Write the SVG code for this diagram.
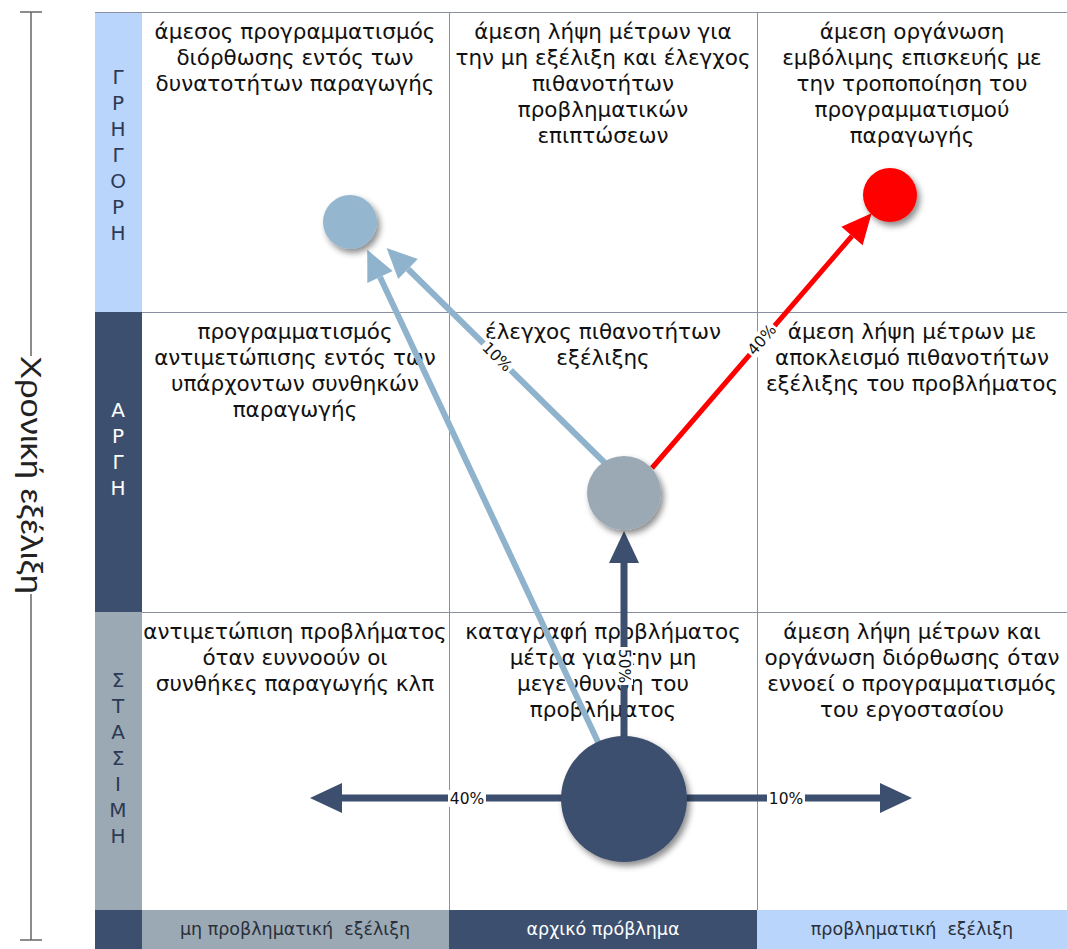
<svg xmlns="http://www.w3.org/2000/svg" width="1067" height="949" viewBox="0 0 1067 949">
<style>
.cell{font-family:"DejaVu Sans",Verdana,sans-serif;font-size:21.5px;fill:#111;text-anchor:middle}
.rowlab{font-family:"DejaVu Sans",sans-serif;font-size:20px;text-anchor:middle}
.collab{font-family:"DejaVu Sans",sans-serif;font-size:17.5px;text-anchor:middle}
.pct{font-family:"DejaVu Sans",sans-serif;font-size:15.5px;fill:#111;text-anchor:middle}
.grid{stroke:#8a90a0;stroke-width:1;fill:none}
.navy{stroke:#3d4f6e;stroke-width:7;fill:none}
.lblue{stroke:#8fb3cc;stroke-width:6;fill:none}
.red{stroke:#ff0000;stroke-width:5;fill:none}
.lbg{fill:#ffffff}
</style>
<defs>
<filter id="sh" x="-30%" y="-30%" width="170%" height="170%">
<feDropShadow dx="3" dy="4" stdDeviation="3" flood-color="#000" flood-opacity="0.45"/>
</filter>
<marker id="mNavy" markerUnits="userSpaceOnUse" markerWidth="34" markerHeight="32" viewBox="0 -16 34 32" refX="0" refY="0" orient="auto" overflow="visible">
<path d="M0,-15 L32,0 L0,15 z" fill="#3d4f6e"/>
</marker>
<marker id="mBlue" markerUnits="userSpaceOnUse" markerWidth="34" markerHeight="32" viewBox="0 -16 34 32" refX="0" refY="0" orient="auto" overflow="visible">
<path d="M0,-14 L30,0 L0,14 z" fill="#8fb3cc"/>
</marker>
<marker id="mRed" markerUnits="userSpaceOnUse" markerWidth="34" markerHeight="32" viewBox="0 -16 34 32" refX="0" refY="0" orient="auto" overflow="visible">
<path d="M0,-14 L30,0 L0,14 z" fill="#ff0000"/>
</marker>
</defs>
<rect x="0" y="0" width="1067" height="949" fill="#ffffff"/>

<g id="axis">
<line x1="20" y1="12" x2="42" y2="12" stroke="#666" stroke-width="1.5"/>
<line x1="20" y1="940" x2="42" y2="940" stroke="#666" stroke-width="1.5"/>
<line x1="31" y1="12" x2="31" y2="356" stroke="#666" stroke-width="1.5"/>
<line x1="31" y1="594" x2="31" y2="940" stroke="#666" stroke-width="1.5"/>
<text transform="translate(21,475) rotate(90)" font-family="Liberation Sans, Arial, sans-serif" font-size="30" fill="#222" text-anchor="middle" textLength="238" lengthAdjust="spacingAndGlyphs">Χρονική εξέλιξη</text>
</g>

<g id="bands">
<rect x="95" y="12" width="47" height="300" fill="#b9d5fb"/>
<rect x="95" y="312" width="47" height="300" fill="#3d4f6e"/>
<rect x="95" y="612" width="47" height="298" fill="#9ba9b4"/>
<rect x="95" y="910" width="47" height="39" fill="#3d4f6e"/>
<rect x="142" y="910" width="307" height="39" fill="#9ba9b4"/>
<rect x="449" y="910" width="308" height="39" fill="#3d4f6e"/>
<rect x="757" y="910" width="310" height="39" fill="#b9d5fb"/>
</g>

<g id="grid">
<line class="grid" x1="95" y1="12.5" x2="1067" y2="12.5"/>
<line class="grid" x1="142" y1="312.5" x2="1067" y2="312.5"/>
<line class="grid" x1="142" y1="612.5" x2="1067" y2="612.5"/>
<line class="grid" x1="449.5" y1="12" x2="449.5" y2="910"/>
<line class="grid" x1="757.5" y1="12" x2="757.5" y2="910"/>
</g>

<g id="row-labels">
<text class="rowlab" fill="#2c3a55">
<tspan x="118" y="84">Γ</tspan><tspan x="118" y="110">Ρ</tspan><tspan x="118" y="136">Η</tspan><tspan x="118" y="162">Γ</tspan><tspan x="118" y="188">Ο</tspan><tspan x="118" y="214">Ρ</tspan><tspan x="118" y="240">Η</tspan>
</text>
<text class="rowlab" fill="#ffffff">
<tspan x="118" y="417">Α</tspan><tspan x="118" y="443">Ρ</tspan><tspan x="118" y="469">Γ</tspan><tspan x="118" y="495">Η</tspan>
</text>
<text class="rowlab" fill="#2c3a55">
<tspan x="118" y="687">Σ</tspan><tspan x="118" y="713">Τ</tspan><tspan x="118" y="739">Α</tspan><tspan x="118" y="765">Σ</tspan><tspan x="118" y="791">Ι</tspan><tspan x="118" y="817">Μ</tspan><tspan x="118" y="843">Η</tspan>
</text>
</g>

<g id="col-labels">
<text class="collab" x="295" y="935" fill="#2a2f3a" xml:space="preserve">μη προβληματική  εξέλιξη</text>
<text class="collab" x="603" y="935" fill="#ffffff">αρχικό πρόβλημα</text>
<text class="collab" x="912" y="935" fill="#2a2f3a" xml:space="preserve">προβληματική  εξέλιξη</text>
</g>

<g id="cell-fast-none">
<text class="cell"><tspan x="295" y="39">άμεσος προγραμματισμός</tspan><tspan x="295" y="65">διόρθωσης εντός των</tspan><tspan x="295" y="91">δυνατοτήτων παραγωγής</tspan></text>
</g>
<g id="cell-fast-initial">
<text class="cell"><tspan x="603" y="39">άμεση λήψη μέτρων για</tspan><tspan x="603" y="65">την μη εξέλιξη και έλεγχος</tspan><tspan x="603" y="91">πιθανοτήτων</tspan><tspan x="603" y="117">προβληματικών</tspan><tspan x="603" y="143">επιπτώσεων</tspan></text>
</g>
<g id="cell-fast-problem">
<text class="cell"><tspan x="912" y="39">άμεση οργάνωση</tspan><tspan x="912" y="65">εμβόλιμης επισκευής με</tspan><tspan x="912" y="91">την τροποποίηση του</tspan><tspan x="912" y="117">προγραμματισμού</tspan><tspan x="912" y="143">παραγωγής</tspan></text>
</g>
<g id="cell-slow-none">
<text class="cell"><tspan x="295" y="339">προγραμματισμός</tspan><tspan x="295" y="365">αντιμετώπισης εντός των</tspan><tspan x="295" y="391">υπάρχοντων συνθηκών</tspan><tspan x="295" y="417">παραγωγής</tspan></text>
</g>
<g id="cell-slow-initial">
<text class="cell"><tspan x="603" y="339">έλεγχος πιθανοτήτων</tspan><tspan x="603" y="365">εξέλιξης</tspan></text>
</g>
<g id="cell-slow-problem">
<text class="cell"><tspan x="912" y="339">άμεση λήψη μέτρων με</tspan><tspan x="912" y="365">αποκλεισμό πιθανοτήτων</tspan><tspan x="912" y="391">εξέλιξης του προβλήματος</tspan></text>
</g>
<g id="cell-static-none">
<text class="cell"><tspan x="295" y="639">αντιμετώπιση προβλήματος</tspan><tspan x="295" y="665">όταν ευννοούν οι</tspan><tspan x="295" y="691">συνθήκες παραγωγής κλπ</tspan></text>
</g>
<g id="cell-static-initial">
<text class="cell"><tspan x="603" y="639">καταγραφή προβλήματος</tspan><tspan x="603" y="665">μέτρα για την μη</tspan><tspan x="603" y="691">μεγενθυνση του</tspan><tspan x="603" y="717">προβλήματος</tspan></text>
</g>
<g id="cell-static-problem">
<text class="cell"><tspan x="912" y="639">άμεση λήψη μέτρων και</tspan><tspan x="912" y="665">οργάνωση διόρθωσης όταν</tspan><tspan x="912" y="691">εννοεί ο προγραμματισμός</tspan><tspan x="912" y="717">του εργοστασίου</tspan></text>
</g>

<g id="connectors">
<line class="navy" x1="562" y1="798" x2="342" y2="798" marker-end="url(#mNavy)"/>
<line class="navy" x1="686" y1="798" x2="880" y2="798" marker-end="url(#mNavy)"/>
<line class="navy" x1="624" y1="737" x2="624" y2="563" marker-end="url(#mNavy)"/>
<line class="lblue" x1="598" y1="742" x2="380" y2="277" marker-end="url(#mBlue)"/>
<line class="lblue" x1="607" y1="465" x2="408" y2="269" marker-end="url(#mBlue)"/>
<line class="red" x1="652" y1="468" x2="852" y2="236" marker-end="url(#mRed)"/>
<g id="label-left">
<rect class="lbg" x="448" y="790" width="38" height="17"/>
<text class="pct" x="467" y="804">40%</text>
</g>
<g id="label-right">
<rect class="lbg" x="767" y="790" width="38" height="17"/>
<text class="pct" x="786" y="804">10%</text>
</g>
<g id="label-up" transform="translate(624,666) rotate(90)">
<rect class="lbg" x="-19" y="-9" width="38" height="17"/>
<text class="pct" x="0" y="5">50%</text>
</g>
<g id="label-blue" transform="translate(497,357) rotate(44.6)">
<rect class="lbg" x="-19" y="-9" width="38" height="17"/>
<text class="pct" x="0" y="5">10%</text>
</g>
<g id="label-red" transform="translate(762,340) rotate(-49.2)">
<rect class="lbg" x="-19" y="-9" width="38" height="17"/>
<text class="pct" x="0" y="5">40%</text>
</g>
</g>

<g id="node-initial"><circle cx="624" cy="799" r="63" fill="#3d4f6e" filter="url(#sh)"/></g>
<g id="node-slow"><circle cx="624" cy="493" r="37" fill="#9ba9b4" filter="url(#sh)"/></g>
<g id="node-fast-none"><circle cx="350" cy="222" r="27" fill="#94b6cf" filter="url(#sh)"/></g>
<g id="node-fast-problem"><circle cx="890" cy="195" r="27" fill="#ff0000" filter="url(#sh)"/></g>
</svg>
